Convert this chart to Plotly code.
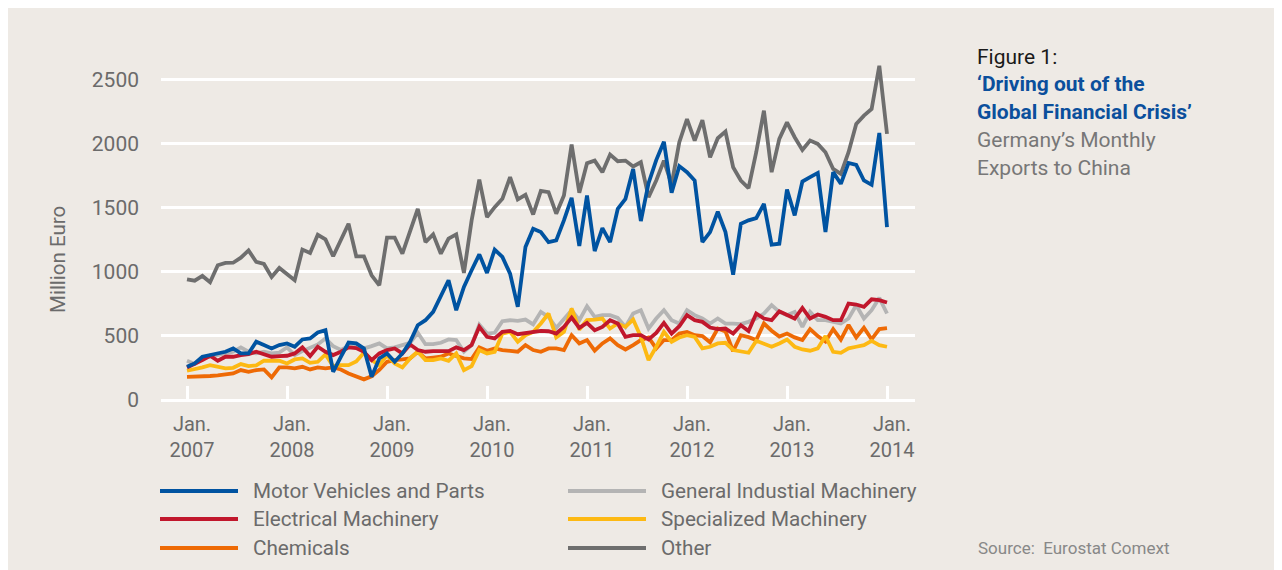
import plotly.graph_objects as go

# 13 observations per year, Jan 2007 .. Jan 2014 (as drawn in the reference)
n_points = 92
x_vals = [2007 + i / 13 for i in range(n_points)]

motor_vehicles = [259, 285, 337, 350, 363, 376, 402, 363, 363, 454, 428, 402, 428, 441, 415, 472, 480, 526, 544, 220,
                  337, 448, 441, 402, 181, 324, 363, 298, 363, 454, 583, 622, 687, 804, 933, 700, 881, 1011, 1135, 990,
                  1172, 1115, 985, 726, 1192, 1335, 1309, 1231, 1244, 1400, 1576, 1200, 1594, 1161, 1340, 1231, 1490, 1568, 1801, 1395,
                  1690, 1870, 2012, 1616, 1823, 1776, 1711, 1231, 1309, 1467, 1309, 977, 1374, 1400, 1418, 1529, 1210, 1218, 1641, 1439,
                  1703, 1737, 1770, 1309, 1776, 1685, 1848, 1833, 1711, 1677, 2081, 1348]

electrical = [254, 280, 311, 345, 306, 337, 337, 350, 358, 376, 358, 337, 342, 345, 363, 410, 342, 415, 376, 350,
              376, 410, 405, 376, 311, 363, 389, 402, 363, 433, 389, 376, 381, 381, 381, 410, 389, 428, 570, 492,
              480, 531, 539, 513, 524, 530, 539, 536, 518, 570, 643, 562, 601, 544, 570, 622, 596, 492, 505, 505,
              472, 523, 601, 518, 575, 661, 622, 609, 565, 552, 557, 518, 583, 537, 674, 635, 622, 692, 661, 635,
              718, 635, 666, 648, 622, 622, 752, 744, 726, 785, 778, 760]

chemicals = [181, 181, 187, 187, 192, 202, 207, 233, 220, 233, 238, 176, 254, 254, 246, 259, 238, 254, 246, 254,
             238, 207, 185, 161, 185, 235, 298, 311, 316, 324, 376, 324, 330, 337, 363, 345, 324, 319, 410, 384,
             402, 389, 381, 376, 428, 389, 376, 402, 402, 389, 505, 441, 467, 384, 441, 480, 428, 394, 428, 467,
             487, 402, 467, 467, 518, 531, 505, 498, 450, 557, 535, 380, 505, 490, 467, 596, 540, 495, 518, 488,
             467, 553, 498, 456, 553, 470, 585, 488, 563, 473, 553, 560]

general_machinery = [306, 280, 324, 337, 350, 363, 376, 410, 376, 363, 376, 363, 370, 410, 350, 381, 410, 433, 480, 420,
                     390, 420, 415, 402, 420, 441, 402, 410, 428, 445, 524, 435, 435, 446, 472, 467, 376, 428, 588, 518,
                     524, 614, 622, 617, 627, 590, 687, 648, 562, 635, 700, 622, 731, 648, 661, 661, 640, 570, 674, 700,
                     557, 635, 700, 622, 596, 700, 661, 635, 596, 635, 596, 596, 591, 609, 635, 674, 739, 687, 661, 687,
                     570, 687, 622, 622, 609, 596, 635, 739, 635, 700, 796, 674]

specialized_machinery = [228, 238, 254, 272, 259, 246, 251, 280, 264, 270, 306, 306, 306, 285, 316, 324, 290, 298, 355, 264,
                         272, 272, 300, 368, 311, 272, 350, 285, 254, 324, 376, 311, 311, 324, 306, 363, 233, 264, 389, 363,
                         376, 518, 531, 454, 505, 530, 596, 674, 487, 531, 713, 549, 622, 627, 635, 557, 596, 570, 627, 492,
                         311, 415, 531, 454, 487, 505, 492, 402, 415, 441, 446, 389, 381, 368, 461, 435, 415, 441, 472, 415,
                         394, 384, 402, 498, 376, 368, 402, 415, 428, 461, 428, 415]

other = [941, 930, 967, 918, 1050, 1068, 1070, 1109, 1166, 1076, 1060, 959, 1029, 982, 933, 1172, 1146, 1288, 1252, 1120,
         1244, 1374, 1120, 1120, 972, 894, 1265, 1265, 1140, 1317, 1490, 1231, 1291, 1140, 1257, 1291, 990, 1400, 1718, 1425,
         1503, 1568, 1737, 1563, 1599, 1446, 1630, 1620, 1452, 1594, 1991, 1615, 1845, 1866, 1776, 1913, 1861, 1866, 1820, 1853,
         1581, 1711, 1866, 1680, 2009, 2190, 2022, 2182, 1892, 2040, 2092, 1814, 1711, 1651, 1931, 2255, 1776, 2035, 2164, 2048,
         1949, 2022, 1996, 1931, 1801, 1763, 1931, 2151, 2216, 2268, 2605, 2074]

year_ticks = [2007, 2008, 2009, 2010, 2011, 2012, 2013, 2014]
year_tick_text = ["Jan.<br>" + str(y) for y in year_ticks]
y_ticks = [0, 500, 1000, 1500, 2000, 2500]

series_names = ["Motor Vehicles and Parts", "Electrical Machinery", "Chemicals",
                "General Industial Machinery", "Specialized Machinery", "Other"]
series_colors = ["#0053A1", "#C1172C", "#EE6A05", "#B4B4B4", "#FDB913", "#6E6E6E"]
series_values = [motor_vehicles, electrical, chemicals, general_machinery, specialized_machinery, other]

BG = "#EEEAE5"
TXT = "#6B6B6B"
FONT = "Roboto"

# page offset of the figure inside the browser page (default body margin)
PAGE_OFF = 8
W, H = 1282 - PAGE_OFF, 570 - PAGE_OFF

fig = go.Figure()
# drawing order: Other at back, Motor Vehicles on top
draw_order = [5, 3, 2, 4, 1, 0]
for k in draw_order:
    fig.add_trace(go.Scatter(
        x=x_vals, y=series_values[k], mode="lines", name=series_names[k],
        line=dict(color=series_colors[k], width=3.8), showlegend=False,
        hoverinfo="skip"))

# plot area in page pixels
plot_l, plot_r, plot_t, plot_b = 161, 915, 60, 400
pw, ph = plot_r - plot_l, plot_b - plot_t


def px_x(px):
    return (px - plot_l) / pw


def px_y(py):
    return (plot_b - py) / ph


# custom legend (long line keys like the reference)
leg_rows_px = [491, 519, 548]
leg_cols_px = [(160, 238, 252), (568, 646, 660)]
legend_layout = [(0, 0, 0), (1, 1, 0), (2, 2, 0), (3, 0, 1), (4, 1, 1), (5, 2, 1)]
shapes = []
annotations = []
for k, row, col in legend_layout:
    x0, x1, xt = leg_cols_px[col]
    yy = px_y(leg_rows_px[row])
    shapes.append(dict(type="line", xref="paper", yref="paper", x0=px_x(x0), x1=px_x(x1), y0=yy, y1=yy,
                       line=dict(color=series_colors[k], width=4)))
    annotations.append(dict(xref="paper", yref="paper", x=px_x(xt - 1), y=yy, xanchor="left", yanchor="middle",
                            text=series_names[k], showarrow=False,
                            font=dict(family=FONT, size=20.7, color=TXT)))

# y-axis title
annotations.append(dict(xref="paper", yref="paper", x=px_x(58), y=px_y(260), text="Million Euro",
                        textangle=-90, showarrow=False, xanchor="center", yanchor="middle",
                        font=dict(family=FONT, size=20.5, color=TXT)))

# side title block
title_lines = [
    ("Figure 1:", "#1A1A1A", False, 57),
    ("\u2018Driving out of the", "#0B4F9C", True, 84),
    ("Global Financial Crisis\u2019", "#0B4F9C", True, 112),
    ("Germany\u2019s Monthly", "#777777", False, 140),
    ("Exports to China", "#777777", False, 168),
]
for text, color, bold, py in title_lines:
    annotations.append(dict(xref="paper", yref="paper", x=px_x(975), y=px_y(py), xanchor="left",
                            yanchor="middle", showarrow=False,
                            text=("<b>" + text + "</b>") if bold else text,
                            font=dict(family=FONT, size=21, color=color)))

annotations.append(dict(xref="paper", yref="paper", x=px_x(976), y=px_y(548), xanchor="left",
                        yanchor="middle", showarrow=False, text="Source:  Eurostat Comext",
                        font=dict(family=FONT, size=17, color="#888888")))

fig.update_layout(
    width=W, height=H,
    margin=dict(l=plot_l - PAGE_OFF, r=W - (plot_r - PAGE_OFF), t=plot_t - PAGE_OFF, b=H - (plot_b - PAGE_OFF)),
    paper_bgcolor=BG, plot_bgcolor=BG,
    font=dict(family=FONT, color=TXT),
    shapes=shapes, annotations=annotations,
    showlegend=False,
    xaxis=dict(range=[2006.74, 2014.28], tickmode="array", tickvals=year_ticks, ticktext=year_tick_text,
               showgrid=False, zeroline=False, showline=False,
               ticks="inside", ticklen=14, tickwidth=2.5, tickcolor="white",
               tickfont=dict(family=FONT, size=20, color=TXT), ticklabelstandoff=10, ticklabelshift=5),
    yaxis=dict(range=[0, 2650], tickmode="array", tickvals=y_ticks,
               showgrid=True, gridcolor="white", gridwidth=2.5,
               zeroline=True, zerolinecolor="white", zerolinewidth=2.5, showline=False,
               ticks="", tickfont=dict(family=FONT, size=21, color=TXT), ticklabelstandoff=21),
)

fig.write_html("out.html")
